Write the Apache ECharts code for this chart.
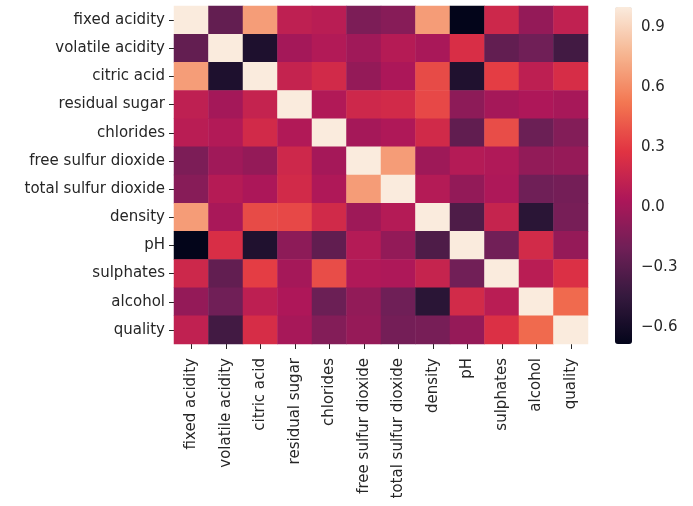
<!DOCTYPE html>
<html>
<head>
<meta charset="utf-8">
<script src="https://cdn.jsdelivr.net/npm/echarts@6/dist/echarts.min.js"></script>
<style>
  html, body { margin: 0; padding: 0; background: #fff; }
  #chart { width: 693px; height: 506px; }
</style>
</head>
<body>
<div id="chart"></div>
<script>
// Pearson correlations between the red-wine features
const features = ['fixed acidity', 'volatile acidity', 'citric acid', 'residual sugar', 'chlorides',
  'free sulfur dioxide', 'total sulfur dioxide', 'density', 'pH', 'sulphates', 'alcohol', 'quality'];

const fixedAcidity       = [1, -0.256, 0.672, 0.115, 0.094, -0.154, -0.113, 0.668, -0.683, 0.183, -0.062, 0.124];
const volatileAcidity    = [-0.256, 1, -0.552, 0.002, 0.061, -0.011, 0.076, 0.022, 0.235, -0.261, -0.202, -0.391];
const citricAcid         = [0.672, -0.552, 1, 0.144, 0.204, -0.061, 0.036, 0.365, -0.542, 0.313, 0.110, 0.226];
const residualSugar      = [0.115, 0.002, 0.144, 1, 0.056, 0.187, 0.203, 0.355, -0.086, 0.006, 0.042, 0.014];
const chlorides          = [0.094, 0.061, 0.204, 0.056, 1, 0.006, 0.047, 0.201, -0.265, 0.371, -0.221, -0.129];
const freeSulfurDioxide  = [-0.154, -0.011, -0.061, 0.187, 0.006, 1, 0.668, -0.022, 0.070, 0.052, -0.069, -0.051];
const totalSulfurDioxide = [-0.113, 0.076, 0.036, 0.203, 0.047, 0.668, 1, 0.071, -0.066, 0.043, -0.206, -0.185];
const density            = [0.668, 0.022, 0.365, 0.355, 0.201, -0.022, 0.071, 1, -0.342, 0.149, -0.496, -0.175];
const pH                 = [-0.683, 0.235, -0.542, -0.086, -0.265, 0.070, -0.066, -0.342, 1, -0.197, 0.206, -0.058];
const sulphates          = [0.183, -0.261, 0.313, 0.006, 0.371, 0.052, 0.043, 0.149, -0.197, 1, 0.094, 0.251];
const alcohol            = [-0.062, -0.202, 0.110, 0.042, -0.221, -0.069, -0.206, -0.496, 0.206, 0.094, 1, 0.476];
const quality            = [0.124, -0.391, 0.226, 0.014, -0.129, -0.051, -0.185, -0.175, -0.058, 0.251, 0.476, 1];

const colorbarTicks = [-0.6, -0.3, 0, 0.3, 0.6, 0.9];

const rows = [fixedAcidity, volatileAcidity, citricAcid, residualSugar, chlorides, freeSulfurDioxide,
  totalSulfurDioxide, density, pH, sulphates, alcohol, quality];

const cells = [];
rows.forEach((row, r) => row.forEach((v, c) => cells.push([c, r, v])));

let vMin = Infinity, vMax = -Infinity;
cells.forEach(d => { vMin = Math.min(vMin, d[2]); vMax = Math.max(vMax, d[2]); });

// rocket ramp sampled at 0, 1/7, ..., 1
const rocket = ['#03051A', '#35193E', '#701F57', '#AD1759', '#E13342', '#F37651', '#F6B48F', '#FAEBDD'];

const textColor = '#262626';
const font = 'DejaVu Sans';
const fmt = v => (v < 0 ? '\u2212' : '') + Math.abs(v).toFixed(1);

const chart = echarts.init(document.getElementById('chart'));
chart.setOption({
  animation: false,
  grid: [
    { left: 174, top: 6, width: 414, height: 338 },
    { left: 615, top: 7, width: 17, height: 337 }
  ],
  xAxis: [
    {
      type: 'category', data: features, gridIndex: 0,
      axisLine: { show: false },
      axisTick: { show: true, length: 5, alignWithLabel: true, lineStyle: { color: textColor } },
      axisLabel: { rotate: 90, margin: 14, fontSize: 15, fontFamily: font, color: textColor, interval: 0 },
      splitLine: { show: false }
    },
    { type: 'value', gridIndex: 1, show: false }
  ],
  yAxis: [
    {
      type: 'category', data: features, inverse: true, gridIndex: 0,
      axisLine: { show: false },
      axisTick: { show: true, length: 5, alignWithLabel: true, lineStyle: { color: textColor } },
      axisLabel: { margin: 9, fontSize: 15, fontFamily: font, color: textColor, interval: 0 },
      splitLine: { show: false }
    },
    {
      type: 'value', gridIndex: 1, position: 'right', min: vMin, max: vMax,
      axisLine: { show: false },
      splitLine: { show: false },
      axisTick: { show: true, length: 5, customValues: colorbarTicks, lineStyle: { color: textColor } },
      axisLabel: { customValues: colorbarTicks, formatter: fmt, margin: 9, fontSize: 15, fontFamily: font, color: textColor }
    }
  ],
  visualMap: {
    type: 'continuous', min: vMin, max: vMax, calculable: false,
    orient: 'vertical', left: 615, top: 7, padding: 0,
    itemWidth: 17, itemHeight: 337, text: null, showLabel: false,
    seriesIndex: 0,
    inRange: { color: rocket }
  },
  series: [{
    type: 'heatmap', xAxisIndex: 0, yAxisIndex: 0,
    data: cells,
    itemStyle: { borderWidth: 0 },
    emphasis: { disabled: true }
  }]
});
</script>
</body>
</html>
